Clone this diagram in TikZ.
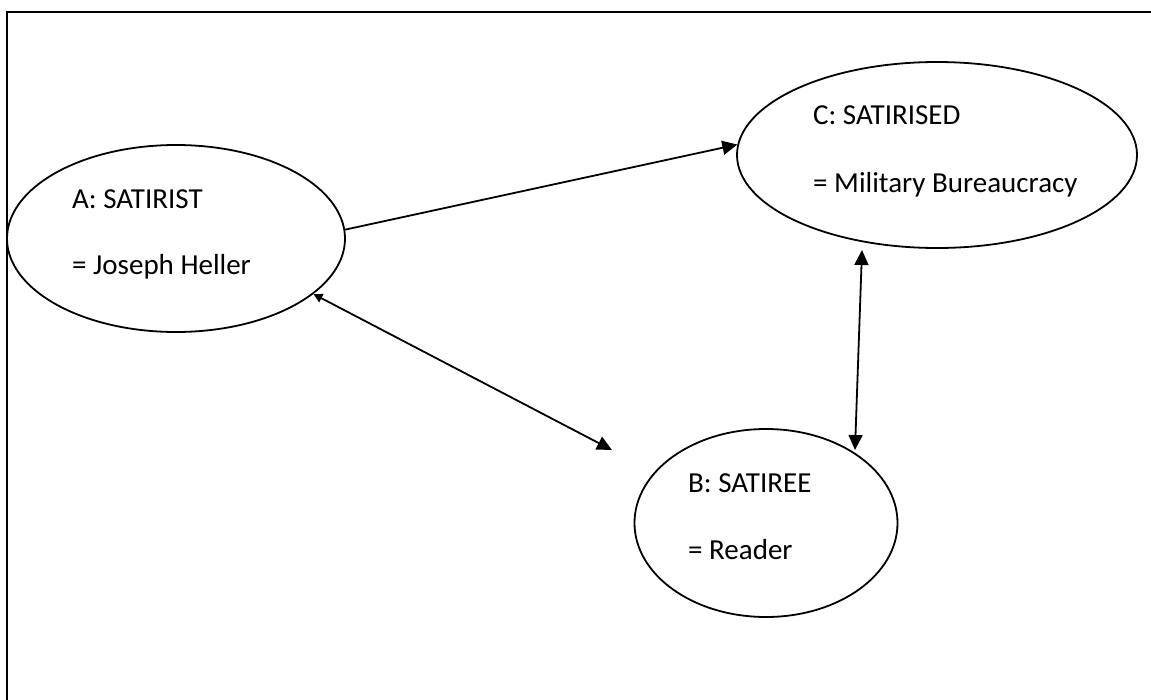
\documentclass[tikz,border=0pt]{standalone}
\usepackage{fontspec}
\setmainfont{Carlito}
\usetikzlibrary{shapes.geometric,arrows.meta}
\begin{document}
\begin{tikzpicture}[x=1pt,y=-1pt,
  bubble/.style={draw,ellipse,line width=1.8pt,inner sep=0pt},
  lbl/.style={anchor=base west,inner sep=0pt,font=\fontsize{29}{34}\selectfont},
  conn/.style={line width=1.8pt}]
\useasboundingbox (0,0) rectangle (1151,699);
\clip (0,0) rectangle (1151,699);
\draw[line width=2.6pt] (7,12) rectangle (1170,720);
\node[bubble,minimum width=338pt,minimum height=187pt] (A) at (176,238.5) {};
\node[bubble,minimum width=400pt,minimum height=186pt] (C) at (937,155) {};
\node[bubble,minimum width=263pt,minimum height=188pt] (B) at (766,523) {};
\node[lbl] (a1) at (72,208) {A: SATIRIST};
\node[lbl] (a2) at (72,274) {= Joseph Heller};
\node[lbl] (c1) at (813,124) {C: SATIRISED};
\node[lbl] (c2) at (813,192) {= Military Bureaucracy};
\node[lbl] (b1) at (688,492) {B: SATIREE};
\node[lbl] (b2) at (688,559) {= Reader};
\coordinate (bA) at (612,450);
\coordinate (cB) at (862,250);
\coordinate (bC) at (855,450);
\draw[conn,-{Triangle[length=15pt,width=14pt]}] (A.3.9) -- (C.177.7);
\draw[conn,{Triangle[length=9pt,width=9pt]}-{Triangle[length=15pt,width=14pt]}] (A.-22.2) -- (bA);
\draw[conn,{Triangle[length=15pt,width=14pt]}-{Triangle[length=15pt,width=14pt]}] (cB) -- (bC);
\end{tikzpicture}
\end{document}
